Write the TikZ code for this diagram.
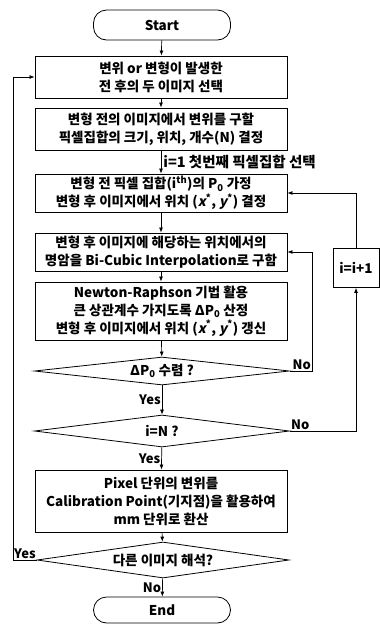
\documentclass[tikz,border=0pt]{standalone}
\usepackage{fontspec}
\setmainfont{Noto Sans CJK KR}
\newfontfamily\slfont{Noto Sans CJK KR}[FakeSlant=0.2]
\usetikzlibrary{shapes.geometric,arrows.meta}
\newcommand{\xs}{({\slfont x}\textsuperscript{*}, {\slfont y}\textsuperscript{*})}
\begin{document}
\begin{tikzpicture}[x=1pt,y=-1pt,
  font=\fontsize{13.5}{18}\selectfont\bfseries,
  box/.style={draw, line width=0.9pt, rectangle, minimum width=252pt, align=center, inner sep=1pt},
  term/.style={draw, line width=0.8pt, rectangle, rounded corners=13pt, minimum width=137pt, minimum height=30pt},
  dia/.style={draw, line width=0.8pt, diamond, aspect=8, inner sep=0pt, minimum width=255pt},
  arr/.style={line width=0.7pt, -{Latex[length=5pt,width=4pt]}},
  lbl/.style={inner sep=1pt, font=\fontsize{13}{15}\selectfont\bfseries}]
\useasboundingbox (0,0) rectangle (380,625);
\node[term] (start) at (162,25) {Start};
\node[box, minimum height=42pt] (b1) at (161,77) {변위 or 변형이 발생한\\전 후의 두 이미지 선택};
\node[box, minimum height=42pt] (b2) at (161,129) {변형 전의 이미지에서 변위를 구할\\픽셀집합의 크기, 위치, 개수(N) 결정};
\node[box, minimum height=38pt] (b3) at (161,193) {변형 전 픽셀 집합(i\textsuperscript{th})의 P\textsubscript{0} 가정\\변형 후 이미지에서 위치 \xs{} 결정};
\node[box, minimum height=38pt] (b4) at (161,252) {변형 후 이미지에 해당하는 위치에서의\\명암을 Bi-Cubic Interpolation로 구함};
\node[box, minimum height=58pt] (b5) at (161,311) {Newton-Raphson 기법 활용\\큰 상관계수 가지도록 ΔP\textsubscript{0} 산정\\변형 후 이미지에서 위치 \xs{} 갱신};
\node[dia, minimum height=28pt] (d1) at (162,371) {ΔP\textsubscript{0} 수렴 ?};
\node[dia, minimum height=32pt] (d2) at (162,431) {i=N ?};
\node[box, minimum height=62pt] (b6) at (161,501) {Pixel 단위의 변위를\\Calibration Point(기지점)을 활용하여\\mm 단위로 환산};
\node[dia, minimum height=36pt, minimum width=252pt] (d3) at (163,560) {다른 이미지 해석?};
\node[term, minimum height=26pt] (end) at (162,610) {End};
\node[draw, line width=0.8pt, minimum width=46pt, minimum height=39pt, inner sep=1pt] (inc) at (356,268) {i=i+1};

\draw[arr] (start) -- (b1);
\draw[arr] (b1) -- (b2);
\draw[arr] (b2) -- node[right, inner sep=1pt, xshift=1pt, font=\fontsize{14.5}{16}\selectfont\bfseries] {i=1 첫번째 픽셀집합 선택} (b3);
\draw[arr] (b3) -- (b4);
\draw[arr] (b4) -- (b5);
\draw[arr] (b5) -- (d1);
\draw[arr] (d1) -- node[left, lbl] {Yes} (d2);
\draw[arr] (d2) -- node[left, lbl] {Yes} (b6);
\draw[arr] (b6) -- (d3);
\draw[arr] (d3) -- node[left, lbl] {No} (end);

\coordinate (c1) at (312,371);
\draw[arr] (d1.east) -- (c1) |- (b4.east);
\node[lbl, anchor=south east] (no1) at (c1) {No};

\draw[arr] (d2.east) -| (inc.south);
\node[lbl, anchor=south west] (no2) at (d2.east) {No};
\draw[arr] (inc.north) |- (b3.east);

\coordinate (lp) at (13,560);
\draw[arr] (d3.west) -- (lp) |- (b1.west);
\node[lbl, anchor=south west] (yes3) at (lp) {Yes};
\end{tikzpicture}
\end{document}
